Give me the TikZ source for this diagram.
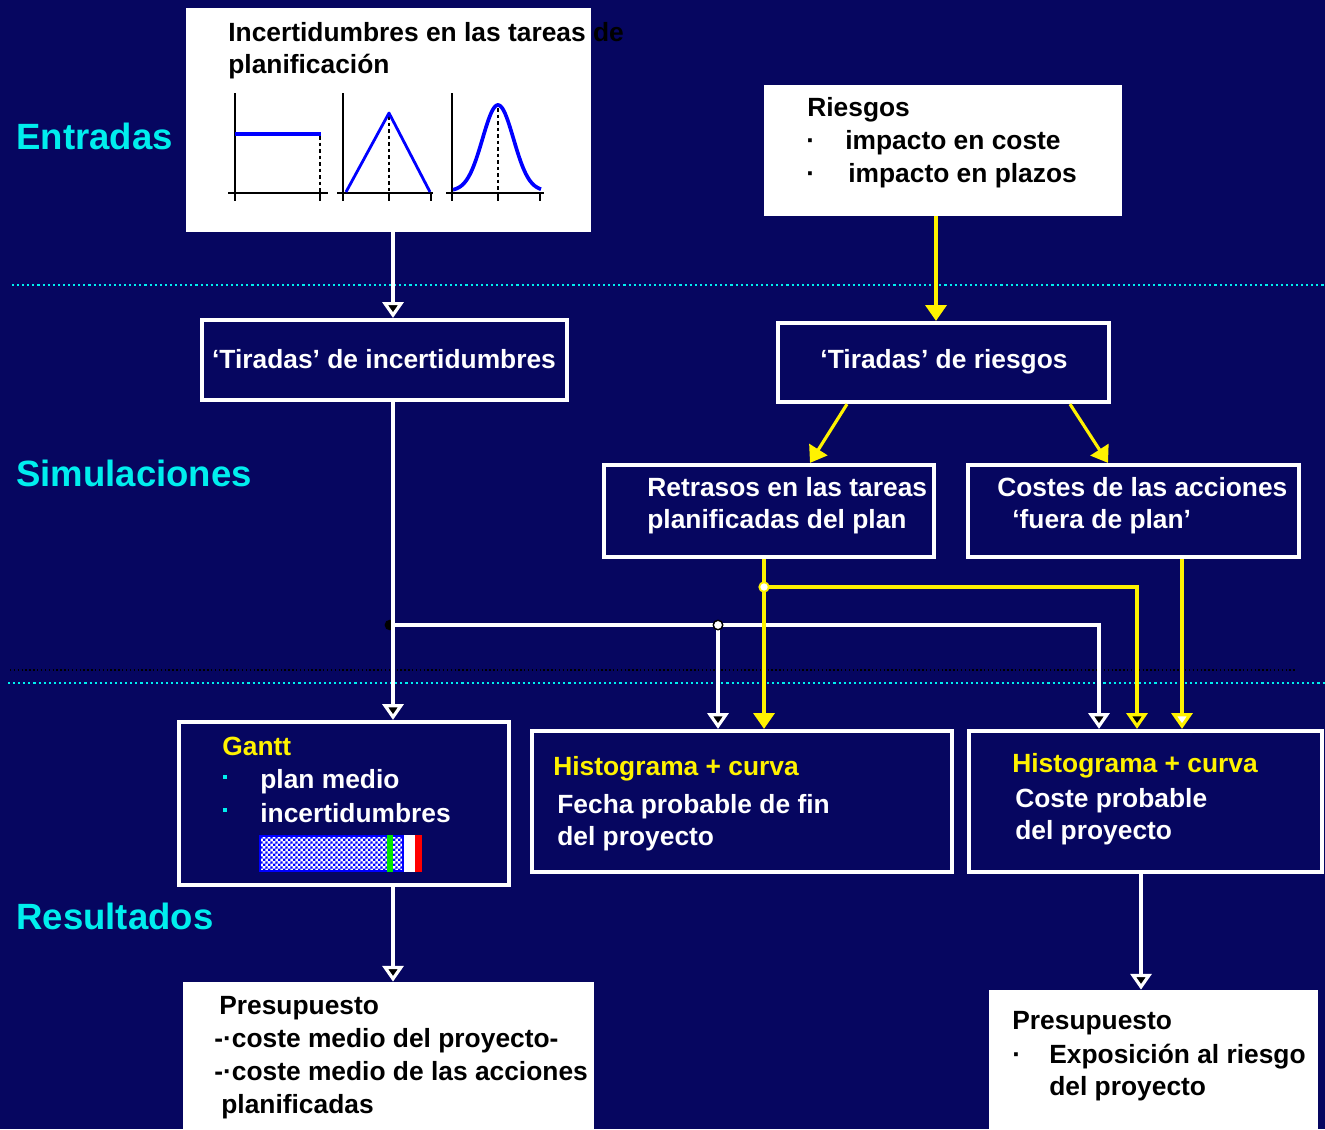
\documentclass[tikz,border=0pt]{standalone}
\usepackage{fontspec}
\setmainfont{Liberation Sans}
\usetikzlibrary{arrows.meta,fit,patterns}

\definecolor{navy}{RGB}{6,6,96}
\definecolor{labcyan}{RGB}{0,238,238}
\definecolor{chartblue}{RGB}{0,0,255}
\definecolor{barblue}{RGB}{0,0,255}
\definecolor{bargreen}{RGB}{0,230,0}

% fine blue/white checks for the Gantt bar
\pgfdeclarepatternformonly{finechecks}{\pgfqpoint{0pt}{0pt}}{\pgfqpoint{3pt}{3pt}}{\pgfqpoint{3pt}{3pt}}{%
  \pgfpathrectangle{\pgfqpoint{0pt}{0pt}}{\pgfqpoint{1.5pt}{1.5pt}}%
  \pgfpathrectangle{\pgfqpoint{1.5pt}{1.5pt}}{\pgfqpoint{1.5pt}{1.5pt}}%
  \pgfusepath{fill}}

\begin{document}
\begin{tikzpicture}[x=0.02cm, y=-0.02cm,
  frame/.style={draw=white, line width=2.4pt, fill=navy, inner sep=0pt},
  paper/.style={fill=white, inner sep=0pt},
  txt/.style={anchor=base west, inner sep=0pt, text=white,
    font=\bfseries\fontsize{15pt}{18pt}\selectfont},
  section/.style={anchor=base west, inner sep=0pt, text=labcyan,
    font=\bfseries\fontsize{20.8pt}{24pt}\selectfont},
  wline/.style={draw=white, line width=1.8pt},
  yline/.style={draw=yellow, line width=1.8pt},
  darktip/.style={-{Triangle[width=12pt,length=9pt,fill=black]}},
  solidtip/.style={-{Triangle[width=12pt,length=9pt]}},
  whitetip/.style={-{Triangle[width=12pt,length=9pt,fill=white]}},
  cyandots/.style={draw=labcyan, line width=1.2pt, dash pattern=on 1.2pt off 1.7pt},
  blackdots/.style={draw=black, line width=0.7pt, dash pattern=on 0.8pt off 1.4pt},
  axis/.style={draw=black, line width=1.1pt},
  guide/.style={draw=black, line width=1.1pt, dash pattern=on 2pt off 1.7pt},
]
\fill[navy] (0,0) rectangle (1325,1129);
\useasboundingbox (0,0) rectangle (1325,1129);

% band separators
\draw[cyandots] (12,285) -- (1325,285);
\draw[blackdots] (10,670) -- (1295,670);
\draw[cyandots] (8,683) -- (1325,683);

% band labels
\node[section] (lblIn)  at (16,149) {Entradas};
\node[section] (lblSim) at (16,486) {Simulaciones};
\node[section] (lblRes) at (16,929) {Resultados};

% ---------- inputs ----------
\node[paper, fit={(186,8) (591,232)}] (inc) {};
\node[txt, text=black] (incT1) at (228,41) {Incertidumbres en las tareas de};
\node[txt, text=black] (incT2) at (228,73) {planificación};

% uniform distribution
\draw[axis] (235,93) -- (235,201);
\draw[axis] (228,193) -- (328,193);
\draw[axis] (320,193) -- (320,201);
\draw[guide] (320,136) -- (320,193);
\draw[chartblue, line width=2.2pt] (235,134) -- (321,134);
% triangular distribution
\draw[axis] (343,93) -- (343,201);
\draw[axis] (337,193) -- (433,193);
\draw[axis] (389,193) -- (389,201);
\draw[axis] (431,193) -- (431,201);
\draw[guide] (389,116) -- (389,193);
\draw[chartblue, line width=1.6pt, line join=round] (346,192) -- (389,113) -- (430,192);
% bell-shaped distribution
\draw[axis] (452,93) -- (452,201);
\draw[axis] (446,193) -- (544,193);
\draw[axis] (498,193) -- (498,201);
\draw[axis] (540,193) -- (540,201);
\draw[guide] (498,108) -- (498,193);
\draw[chartblue, line width=2.1pt, line join=round]
  plot[domain=453:541, samples=70, smooth]
  (\x, {191 - 86*exp(-0.5*((\x-498)/15.5)*((\x-498)/15.5))});

\node[paper, fit={(764,85) (1122,216)}] (ries) {};
\node[txt, text=black] (riesT) at (807,116) {Riesgos};
\node[txt, text=black] (riesB1) at (806,149) {·};
\node[txt, text=black] (riesT1) at (845,149) {impacto en coste};
\node[txt, text=black] (riesB2) at (806,182) {·};
\node[txt, text=black] (riesT2) at (848,182) {impacto en plazos};

% ---------- simulations ----------
\node[frame, fit={(202,320) (567,400)}] (tirI) {};
\node[txt, anchor=base] (tirIT) at (384,368) {‘Tiradas’ de incertidumbres};
\node[frame, fit={(778,323) (1109,402)}] (tirR) {};
\node[txt, anchor=base] (tirRT) at (944,368) {‘Tiradas’ de riesgos};

\node[frame, fit={(604,465) (934,557)}] (retr) {};
\node[txt] (retrT1) at (647,496) {Retrasos en las tareas};
\node[txt] (retrT2) at (647,528) {planificadas del plan};
\node[frame, fit={(968,465) (1299,557)}] (cost) {};
\node[txt] (costT1) at (997,496) {Costes de las acciones};
\node[txt] (costT2) at (1012,528) {‘fuera de plan’};

% ---------- results ----------
\node[frame, fit={(179,722) (509,885)}] (gantt) {};
\node[txt, text=yellow] (ganttT) at (222,755) {Gantt};
\fill[labcyan] (223,775) rectangle (227,779);
\node[txt] (ganttT1) at (260,788) {plan medio};
\fill[labcyan] (223,808) rectangle (227,812);
\node[txt] (ganttT2) at (260,822) {incertidumbres};
% Gantt bar
\fill[barblue] (259,835) rectangle (404,872);
\fill[white] (261,837) rectangle (402,870);
\fill[pattern=finechecks, pattern color=barblue] (261,837) rectangle (402,870);
\fill[bargreen] (387,835) rectangle (393,872);
\fill[white] (404,835) rectangle (415,872);
\fill[red] (415,835) rectangle (422,872);

\node[frame, fit={(532,731) (952,872)}] (hist1) {};
\node[txt, text=yellow] (hist1T) at (553,775) {Histograma + curva};
\node[txt] (hist1T1) at (557,813) {Fecha probable de fin};
\node[txt] (hist1T2) at (557,845) {del proyecto};
\node[frame, fit={(969,731) (1322,872)}] (hist2) {};
\node[txt, text=yellow] (hist2T) at (1012,772) {Histograma + curva};
\node[txt] (hist2T1) at (1015,807) {Coste probable};
\node[txt] (hist2T2) at (1015,839) {del proyecto};

\node[paper, fit={(183,982) (594,1129)}] (pres1) {};
\node[txt, text=black] (pres1T) at (219,1014) {Presupuesto};
\node[txt, text=black] (pres1T1) at (214,1047) {-·coste medio del proyecto-};
\node[txt, text=black] (pres1T2) at (214,1080) {-·coste medio de las acciones};
\node[txt, text=black] (pres1T3) at (221,1113) {planificadas};
\node[paper, fit={(989,990) (1318,1129)}] (pres2) {};
\node[txt, text=black] (pres2T) at (1012,1029) {Presupuesto};
\node[txt, text=black] (pres2B) at (1012,1063) {·};
\node[txt, text=black] (pres2T1) at (1049,1063) {Exposición al riesgo};
\node[txt, text=black] (pres2T2) at (1049,1095) {del proyecto};

% ---------- connectors ----------
\coordinate (colA) at (393,0);
\coordinate (colRisk) at (936,0);
\coordinate (diag1a) at (847,0);
\coordinate (diag1b) at (810,0);
\coordinate (diag2a) at (1070,0);
\coordinate (diag2b) at (1108,0);
\coordinate (busL) at (393,625);
\coordinate (busM) at (718,625);
\coordinate (busR) at (1099,625);
\coordinate (yJ) at (764,587);
\coordinate (yR) at (1137,587);
\coordinate (colCost) at (1182,0);
\coordinate (colPres) at (1141,0);

\draw[wline, darktip] (inc.south -| colA) -- (tirI.north -| colA);
\draw[yline, solidtip] (ries.south -| colRisk) -- (tirR.north -| colRisk);
\draw[yline, solidtip] (tirR.south -| diag1a) -- (retr.north -| diag1b);
\draw[yline, solidtip] (tirR.south -| diag2a) -- (cost.north -| diag2b);

\fill[black] ([xshift=-1.8pt]busL) circle[radius=3pt];
\draw[wline, darktip] (tirI.south -| colA) -- (gantt.north -| colA);
\draw[wline, darktip] (busL) -- (busR) -- (hist2.north -| busR);
\draw[wline, darktip] (busM) -- (hist1.north -| busM);
\draw[black, fill=white, line width=0.8pt] (busM) circle[radius=2.7pt];

\draw[yline, solidtip] (retr.south -| yJ) -- (hist1.north -| yJ);
\draw[yline, darktip] (yJ) -- (yR) -- (hist2.north -| yR);
\draw[yline, whitetip] (cost.south -| colCost) -- (hist2.north -| colCost);
\draw[yellow, fill=white, line width=1pt] (yJ) circle[radius=2.7pt];

\draw[wline, darktip] (gantt.south -| colA) -- (pres1.north -| colA);
\draw[wline, darktip] (hist2.south -| colPres) -- (pres2.north -| colPres);
\end{tikzpicture}
\end{document}
